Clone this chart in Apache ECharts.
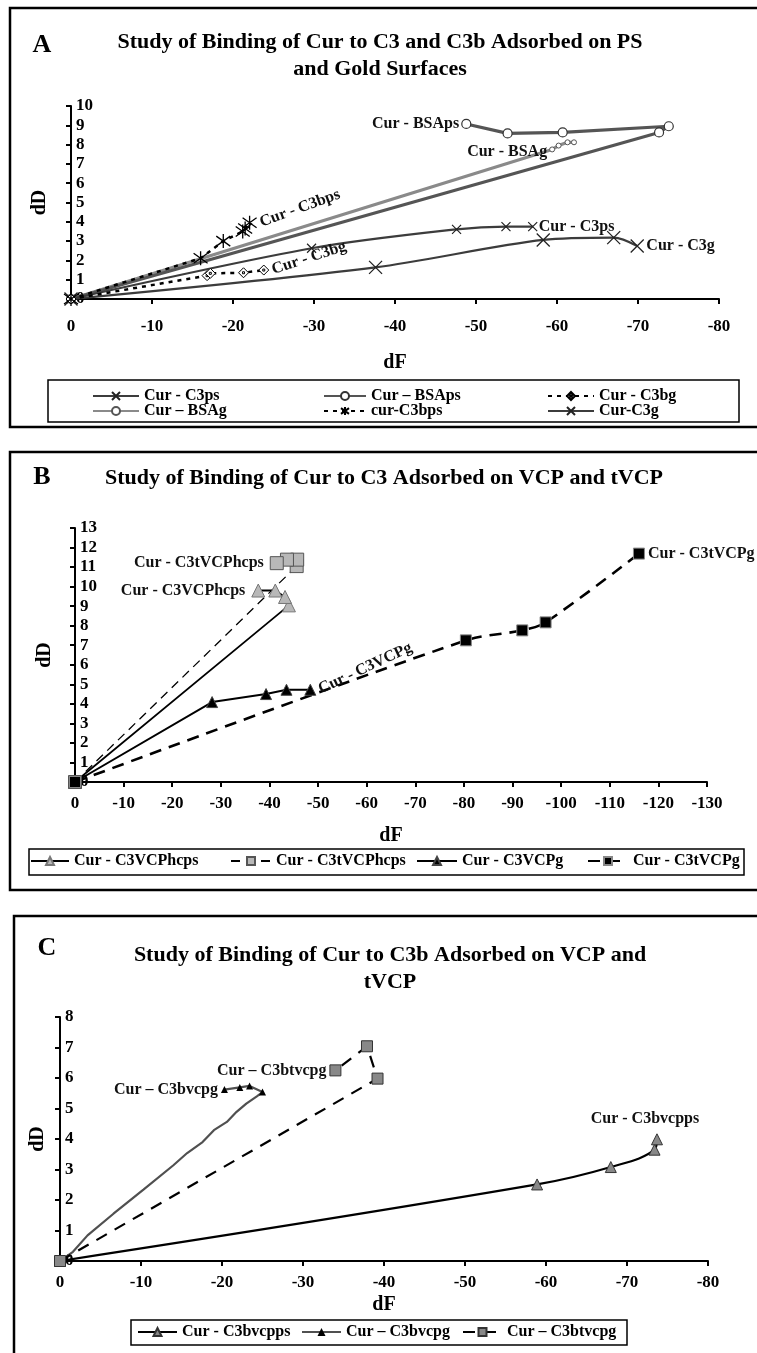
<!DOCTYPE html>
<html><head><meta charset="utf-8">
<script src="https://cdn.jsdelivr.net/npm/echarts@6/dist/echarts.min.js"></script>
<style>html,body{margin:0;padding:0;background:#fff}#c{width:757px;height:1353px}</style>
</head><body><div id="c"></div>
<script>
// ===== Panel A : dF (x) and dD (y) =====
const aC3psX   = [0, -29.7, -47.6, -53.7, -57.0];
const aC3psY   = [0, 2.63, 3.61, 3.75, 3.75];
const aBSApsX  = [0, -72.6, -73.8, -60.7, -53.9, -48.8];
const aBSApsY  = [0, 8.63, 8.95, 8.63, 8.58, 9.07];
const aC3bgX   = [0, -16.8, -17.2, -21.3, -23.8];
const aC3bgY   = [0, 1.21, 1.33, 1.36, 1.50];
const aBSAgX   = [0, -59.4, -60.2, -61.3, -62.1];
const aBSAgY   = [0, 7.75, 7.95, 8.12, 8.12];
const aC3bpsX  = [0, -16.0, -18.8, -21.2, -21.5, -22.05];
const aC3bpsY  = [0, 2.11, 3.0, 3.5, 3.65, 3.95];
const aC3gX    = [0, -37.6, -58.3, -67.0, -69.9];
const aC3gY    = [0, 1.64, 3.06, 3.18, 2.75];
// ===== Panel B =====
const bC3VCPhcpsX  = [0, -44.0, -43.2, -41.2, -37.7];
const bC3VCPhcpsY  = [0, 9.04, 9.47, 9.8, 9.8];
const bC3tVCPhcpsX = [0, -45.6, -45.7, -43.6, -41.5];
const bC3tVCPhcpsY = [0, 11.05, 11.38, 11.38, 11.2];
const bC3VCPgX     = [0, -28.2, -39.3, -43.5, -48.4];
const bC3VCPgY     = [0, 4.09, 4.5, 4.72, 4.72];
const bC3tVCPgX    = [0, -80.4, -92.0, -96.8, -116.0];
const bC3tVCPgY    = [0, 7.25, 7.76, 8.17, 11.69];
// ===== Panel C =====
const cC3bvcppsX = [0, -58.9, -68.0, -73.4, -73.7];
const cC3bvcppsY = [0, 2.51, 3.08, 3.65, 3.99];
const cC3bvcpgX  = [0, -1.6, -3.4, -6.6, -10.3, -14.0, -15.7, -17.6, -19.0, -20.6, -21.8, -23.0, -24.3, -25.0, -23.4, -22.2, -20.3];
const cC3bvcpgY  = [0, 0.3, 0.84, 1.55, 2.34, 3.14, 3.54, 3.9, 4.29, 4.56, 4.89, 5.16, 5.4, 5.54, 5.74, 5.69, 5.62];
const cC3btvcpgX = [0, -39.2, -37.9, -34.0];
const cC3btvcpgY = [0, 5.98, 7.04, 6.25];

// titles / names
const titleA = 'Study of Binding of Cur to C3 and C3b Adsorbed on PS\nand Gold Surfaces';
const titleB = 'Study of Binding of Cur to C3 Adsorbed on VCP and tVCP';
const titleC = 'Study of Binding of Cur to C3b Adsorbed on VCP and\ntVCP';

const F = '"Liberation Serif", "Times New Roman", serif';
const txt = {fontFamily: F, fontWeight: 'bold', color: '#000'};

function pts(xs, ys) { return xs.map((x, i) => [x, ys[i]]); }
function lab(data, idx, opts) {
  data[idx] = {value: data[idx], label: Object.assign({show: true, fontFamily: F, fontWeight: 'bold', fontSize: 16, color: '#111'}, opts)};
  return data;
}

const symX = 'path://M0,0L10,10M10,0L0,10';
const symAst = 'path://M0,0L10,10M10,0L0,10M5,-2L5,12';
const symDia = 'path://M5,0L10,5L5,10L0,5Z M4,4L6,4L6,6L4,6Z';

function xAx(gi, min, margin, nameGap) {
  return {gridIndex: gi, type: 'value', min: min, max: 0, interval: 10, inverse: true,
    name: 'dF', nameLocation: 'middle', nameGap: nameGap, nameTextStyle: Object.assign({fontSize: 20}, txt),
    axisLine: {onZero: false, lineStyle: {color: '#000', width: 2}},
    axisTick: {show: true, length: 5, lineStyle: {color: '#000', width: 2}},
    axisLabel: Object.assign({fontSize: 17, margin: margin, showMinLabel: true, showMaxLabel: true}, txt),
    splitLine: {show: false}};
}
function yAx(gi, max, nameGap) {
  return {gridIndex: gi, type: 'value', min: 0, max: max, interval: 1,
    name: 'dD', nameLocation: 'middle', nameRotate: 90, nameGap: nameGap, nameTextStyle: Object.assign({fontSize: 20}, txt),
    axisLine: {onZero: false, lineStyle: {color: '#000', width: 2}},
    axisTick: {show: true, length: 5, inside: false, lineStyle: {color: '#000', width: 2}},
    axisLabel: Object.assign({fontSize: 17, inside: true, margin: 5}, txt),
    splitLine: {show: false}};
}
function leg(name, left, top, w) {
  return {data: [name], left: left, top: top, itemWidth: w, itemHeight: 10, padding: 0,
    textStyle: Object.assign({fontSize: 16}, txt)};
}

// C3bvcpg: markers only on the final plateau points
const c3bvcpgData = pts(cC3bvcpgX, cC3bvcpgY).map((p, i) => (i > 0 && i < 13) ? {value: p, symbol: 'none'} : p);
lab(c3bvcpgData, c3bvcpgData.length - 1, {position: 'left', distance: 3, formatter: 'Cur – C3bvcpg'});

const series = [
  // ---- A ----
  {name: 'Cur – BSAg', type: 'line', xAxisIndex: 0, yAxisIndex: 0,
    data: lab(pts(aBSAgX, aBSAgY), 1, {position: 'left', distance: 2, formatter: 'Cur - BSAg', offset: [0, 2]}),
    symbol: 'circle', symbolSize: 5, itemStyle: {color: '#fff', borderColor: '#555', borderWidth: 1},
    lineStyle: {color: '#8a8a8a', width: 3.2}},
  {name: 'Cur – BSAps', type: 'line', xAxisIndex: 0, yAxisIndex: 0,
    data: lab(pts(aBSApsX, aBSApsY), aBSApsX.length - 1, {position: 'left', distance: 2, formatter: 'Cur - BSAps'}),
    symbol: 'circle', symbolSize: 9, itemStyle: {color: '#fff', borderColor: '#333', borderWidth: 1.2},
    lineStyle: {color: '#555', width: 3.2}},
  {name: 'Cur - C3ps', type: 'line', xAxisIndex: 0, yAxisIndex: 0, smooth: 0.3,
    data: lab(pts(aC3psX, aC3psY), aC3psX.length - 1, {position: 'right', distance: 1, formatter: 'Cur - C3ps'}),
    symbol: symX, symbolSize: 9, itemStyle: {color: '#222', borderColor: '#222', borderWidth: 1.2},
    lineStyle: {color: '#3c3c3c', width: 2.2}},
  {name: 'Cur-C3g', type: 'line', xAxisIndex: 0, yAxisIndex: 0, smooth: 0.3,
    data: lab(pts(aC3gX, aC3gY), aC3gX.length - 1, {position: 'right', distance: 2, formatter: 'Cur - C3g'}),
    symbol: symX, symbolSize: 13, itemStyle: {color: '#222', borderColor: '#222', borderWidth: 1.3},
    lineStyle: {color: '#3c3c3c', width: 2.2}},
  {name: 'Cur - C3bg', type: 'line', xAxisIndex: 0, yAxisIndex: 0,
    data: lab(pts(aC3bgX, aC3bgY), aC3bgX.length - 1, {position: 'right', distance: 3, formatter: 'Cur - C3bg', rotate: 18}),
    symbol: symDia, symbolSize: 10, itemStyle: {color: '#fff', borderColor: '#000', borderWidth: 1},
    lineStyle: {color: '#000', width: 2.5, type: [4, 5]}},
  {name: 'cur-C3bps', type: 'line', xAxisIndex: 0, yAxisIndex: 0,
    data: lab(pts(aC3bpsX, aC3bpsY), aC3bpsX.length - 1, {position: 'right', distance: 3, formatter: 'Cur - C3bps', rotate: 20}),
    symbol: symAst, symbolSize: 14, itemStyle: {color: '#000', borderColor: '#000', borderWidth: 1.3},
    lineStyle: {color: '#000', width: 2.5, type: [4, 5]}},
  // ---- B ----
  {name: 'Cur - C3VCPhcps', type: 'line', xAxisIndex: 1, yAxisIndex: 1,
    data: lab(pts(bC3VCPhcpsX, bC3VCPhcpsY), bC3VCPhcpsX.length - 1, {position: 'left', distance: 6, formatter: 'Cur - C3VCPhcps'}),
    symbol: 'triangle', symbolSize: 13, itemStyle: {color: '#b8b8b8', borderColor: '#777', borderWidth: 1},
    lineStyle: {color: '#000', width: 1.8}},
  {name: 'Cur - C3tVCPhcps', type: 'line', xAxisIndex: 1, yAxisIndex: 1,
    data: lab(pts(bC3tVCPhcpsX, bC3tVCPhcpsY), bC3tVCPhcpsX.length - 1, {position: 'left', distance: 6, formatter: 'Cur - C3tVCPhcps'}),
    symbol: 'rect', symbolSize: 13, itemStyle: {color: '#b8b8b8', borderColor: '#555', borderWidth: 1},
    lineStyle: {color: '#000', width: 1.3, type: [9, 6]}},
  {name: 'Cur - C3VCPg', type: 'line', xAxisIndex: 1, yAxisIndex: 1,
    data: lab(pts(bC3VCPgX, bC3VCPgY), bC3VCPgX.length - 1, {position: 'right', distance: 3, formatter: 'Cur - C3VCPg', rotate: 25}),
    symbol: 'triangle', symbolSize: 11, itemStyle: {color: '#000', borderColor: '#444', borderWidth: 1},
    lineStyle: {color: '#000', width: 2}},
  {name: 'Cur - C3tVCPg', type: 'line', xAxisIndex: 1, yAxisIndex: 1, smooth: 0.3,
    data: lab(pts(bC3tVCPgX, bC3tVCPgY), bC3tVCPgX.length - 1, {position: 'right', distance: 3, formatter: 'Cur - C3tVCPg'}),
    symbol: 'rect', symbolSize: 11, itemStyle: {color: '#000', borderColor: '#888', borderWidth: 1},
    lineStyle: {color: '#000', width: 2.6, type: [12, 8]}},
  // ---- C ----
  {name: 'Cur - C3bvcpps', type: 'line', xAxisIndex: 2, yAxisIndex: 2, smooth: 0.4,
    data: lab(pts(cC3bvcppsX, cC3bvcppsY), cC3bvcppsX.length - 1, {position: 'top', distance: 6, offset: [-12, 0], formatter: 'Cur - C3bvcpps'}),
    symbol: 'triangle', symbolSize: 11, itemStyle: {color: '#888', borderColor: '#333', borderWidth: 1},
    lineStyle: {color: '#000', width: 2.2}},
  {name: 'Cur – C3bvcpg', type: 'line', xAxisIndex: 2, yAxisIndex: 2,
    data: c3bvcpgData,
    symbol: 'triangle', symbolSize: 7, itemStyle: {color: '#000'},
    lineStyle: {color: '#505050', width: 2.2}},
  {name: 'Cur – C3btvcpg', type: 'line', xAxisIndex: 2, yAxisIndex: 2,
    data: lab(pts(cC3btvcpgX, cC3btvcpgY), cC3btvcpgX.length - 1, {position: 'left', distance: 3, formatter: 'Cur – C3btvcpg'}),
    symbol: 'rect', symbolSize: 11, itemStyle: {color: '#888', borderColor: '#333', borderWidth: 1},
    lineStyle: {color: '#000', width: 2.2, type: [12, 9]}}
];

const chart = echarts.init(document.getElementById('c'), null, {renderer: 'canvas'});
chart.setOption({
  animation: false,
  backgroundColor: '#fff',
  title: [
    {text: titleA, left: 380, top: 29, textAlign: 'center', padding: 0, textStyle: Object.assign({fontSize: 22, lineHeight: 27}, txt)},
    {text: titleB, left: 384, top: 465, textAlign: 'center', padding: 0, textStyle: Object.assign({fontSize: 22, lineHeight: 27}, txt)},
    {text: titleC, left: 390, top: 942, textAlign: 'center', padding: 0, textStyle: Object.assign({fontSize: 22, lineHeight: 27}, txt)}
  ],
  grid: [
    {left: 71, top: 106, width: 648, height: 193},
    {left: 75, top: 528, width: 632, height: 254},
    {left: 60, top: 1017, width: 648, height: 244}
  ],
  xAxis: [xAx(0, -80, 19, 54), xAx(1, -130, 13, 44), xAx(2, -80, 13, 34)],
  yAxis: [yAx(0, 10, 21), yAx(1, 13, 20), yAx(2, 8, 12)],
  legend: [
    leg('Cur - C3ps', 92, 388, 46), leg('Cur – BSAps', 323, 388, 42), leg('Cur - C3bg', 547, 388, 46),
    leg('Cur – BSAg', 92, 403, 46), leg('cur-C3bps', 323, 403, 42), leg('Cur-C3g', 547, 403, 46),
    leg('Cur - C3VCPhcps', 30, 853, 38), leg('Cur - C3tVCPhcps', 230, 853, 40),
    leg('Cur - C3VCPg', 416, 853, 40), leg('Cur - C3tVCPg', 587, 853, 40),
    leg('Cur - C3bvcpps', 137, 1324, 39), leg('Cur – C3bvcpg', 301, 1324, 39), leg('Cur – C3btvcpg', 462, 1324, 39)
  ],
  graphic: [
    {type: 'rect', silent: true, z: -1, shape: {x: 10, y: 8, width: 760, height: 419}, style: {fill: 'none', stroke: '#000', lineWidth: 2.5}},
    {type: 'rect', silent: true, z: -1, shape: {x: 10, y: 452, width: 760, height: 438}, style: {fill: 'none', stroke: '#000', lineWidth: 2.5}},
    {type: 'rect', silent: true, z: -1, shape: {x: 14, y: 916, width: 760, height: 460}, style: {fill: 'none', stroke: '#000', lineWidth: 2.5}},
    {type: 'rect', silent: true, z: -1, shape: {x: 48, y: 380, width: 691, height: 42}, style: {fill: 'none', stroke: '#000', lineWidth: 1.5}},
    {type: 'rect', silent: true, z: -1, shape: {x: 29, y: 849, width: 715, height: 26}, style: {fill: 'none', stroke: '#000', lineWidth: 1.5}},
    {type: 'rect', silent: true, z: -1, shape: {x: 131, y: 1320, width: 496, height: 25}, style: {fill: 'none', stroke: '#000', lineWidth: 1.5}},
    {type: 'text', x: 42, y: 45, style: {text: 'A', fontFamily: F, fontWeight: 'bold', fontSize: 26, fill: '#000', align: 'center', verticalAlign: 'middle'}},
    {type: 'text', x: 42, y: 477, style: {text: 'B', fontFamily: F, fontWeight: 'bold', fontSize: 26, fill: '#000', align: 'center', verticalAlign: 'middle'}},
    {type: 'text', x: 47, y: 948, style: {text: 'C', fontFamily: F, fontWeight: 'bold', fontSize: 26, fill: '#000', align: 'center', verticalAlign: 'middle'}}
  ],
  series: series
});
</script>
</body></html>
